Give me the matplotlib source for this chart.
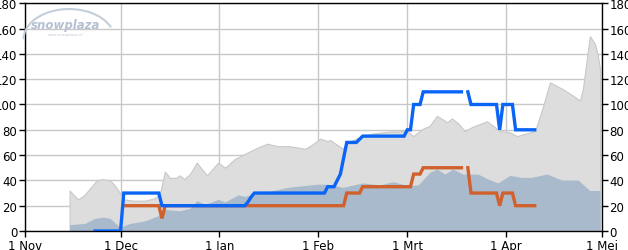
import numpy as np
import pandas as pd
import matplotlib
matplotlib.use("Agg")
import matplotlib.pyplot as plt
from matplotlib.patches import Arc

# dagen sinds 1 nov
start = pd.Timestamp("2012-11-01")
maanden = pd.date_range("2012-11-01", "2013-05-01", freq="MS")
maand_labels = ["1 Nov", "1 Dec", "1 Jan", "1 Feb", "1 Mrt", "1 Apr", "1 Mei"]

# grijs vlak (maximum)
max_dag = [14, 16.6, 18.5, 22.5, 24.5, 26.7, 28.2, 29.8, 31.1, 33.9, 37.7, 40.8, 42.4, 43.9,
           45.5, 47.4, 48.6, 49.9, 51.8, 53.9, 57.1, 60.6, 62.8, 65.9, 69, 73.1, 76, 79.4,
           83.2, 87.9, 90, 92.6, 95.1, 95.7, 99.8, 101, 105, 109, 114, 120, 121.8, 125,
           127, 129.3, 132.5, 134, 136, 138, 140.6, 145, 147, 149, 152.2, 154.4, 160.1,
           162.3, 164.8, 168.9, 172, 174.2, 175.1, 177.3, 178.9, 179.8, 180.5]
max_cm = [32, 25, 28, 40, 41, 40, 36, 30, 25, 24, 24, 26, 30, 47,
          42, 42, 44, 41, 45, 54, 44, 54, 50, 57, 61, 66, 69, 67,
          67, 65, 68, 73, 71, 72, 65, 70, 74, 77, 78.5, 79, 75, 81,
          83, 91, 86, 89, 85, 79, 82.5, 86.7, 83, 79, 78, 75, 79,
          96, 117.5, 112, 107, 103, 112, 154, 148, 139, 128]

# blauwgrijs vlak (gemiddelde)
gem_dag = [14, 18.8, 22, 24.5, 26.7, 29.8, 33, 37.7, 41.7, 44, 48.6, 51.8, 54, 56.5,
           60.6, 62.8, 66.9, 69, 74.4, 82.5, 87.9, 92, 95.1, 99.8, 106, 111.4, 115.5,
           120, 123.4, 127.1, 129.3, 131.8, 134.3, 137.5, 142.2, 145.4, 148.5, 152.2,
           155.8, 159, 163.8, 168.5, 173.6, 177.3, 180.5]
gem_cm = [5, 6, 10, 11, 10, 3, 6, 8, 12, 17, 16, 18, 24, 21,
          25, 23, 28.5, 27.4, 30, 34.5, 36, 37, 37, 34.5, 38, 36.4, 39,
          36, 36.4, 46.4, 49, 45, 49, 45, 45, 41, 38, 44,
          42.4, 42.4, 45, 40.3, 40.3, 32, 32]

# berg (blauw)
berg_dag = [22, 30, 31, 42, 43, 69, 70, 71, 72, 94, 95, 97, 98, 99, 101, 104, 106, 119, 120,
            121, 122, 124, 125, 137, 138, 139, 140, 148, 149, 150, 153, 154, 160]
berg_cm = [0, 0, 30, 30, 20, 20, 23, 27, 30, 30, 35, 35, 40, 45, 70, 70, 75, 75, 80,
           80, 100, 100, 110, 110, np.nan, 110, 100, 100, 80, 100, 100, 80, 80]

# dal (oranje)
dal_dag = [31, 42, 43, 44, 100, 101, 105, 106, 121, 122, 124, 125, 137, 138,
           139, 140, 148, 149, 150, 153, 154, 160]
dal_cm = [20, 20, 10, 20, 20, 30, 30, 35, 35, 45, 45, 50, 50, np.nan,
          50, 30, 30, 20, 30, 30, 20, 20]

fig = plt.figure(figsize=(6.28, 2.51), dpi=100)
ax = fig.add_axes([0.0398, 0.0757, 0.9182, 0.9072])

ax.fill_between(max_dag, max_cm, 0, color="#dddddd", edgecolor="#c8c8c8", linewidth=0.8, zorder=1)
ax.fill_between(gem_dag, gem_cm, 0, color="#a9bacd", linewidth=0, zorder=2)
ax.plot(dal_dag, dal_cm, color="#d0602c", linewidth=2.4, zorder=4, solid_joinstyle="miter")
ax.plot(berg_dag, berg_cm, color="#0a64f5", linewidth=2.4, zorder=5, solid_joinstyle="miter")

xt = [(m - start).days for m in maanden]
ax.set_xlim(0, xt[-1])
ax.set_ylim(0, 180)
ax.set_xticks(xt)
ax.set_xticklabels(maand_labels)
ax.set_yticks(range(0, 181, 20))
ax.grid(True, color="#c8c8c8", linewidth=1, zorder=0)
ax.set_axisbelow(True)

ax.tick_params(axis="both", direction="out", length=4, width=1, labelsize=8.5,
               colors="black", pad=1.5)
ax.tick_params(axis="y", right=True, labelright=True)
for s in ax.spines.values():
    s.set_color("black")
    s.set_linewidth(1)

# logo
fig.text(0.105, 0.9, "snowplaza", fontsize=8.5, fontweight="bold", style="italic",
         color="#b5c1d2", ha="center", va="center")
fig.text(0.105, 0.86, "www.snowplaza.nl", fontsize=2.8, color="#c0c8d4",
         ha="center", va="center")
arc = Arc((0.11, 0.84), 0.145, 0.24, theta1=35, theta2=180, transform=fig.transFigure,
          color="#c4cedb", linewidth=1.5)
fig.patches.append(arc)

fig.savefig("out.png", dpi=100)
